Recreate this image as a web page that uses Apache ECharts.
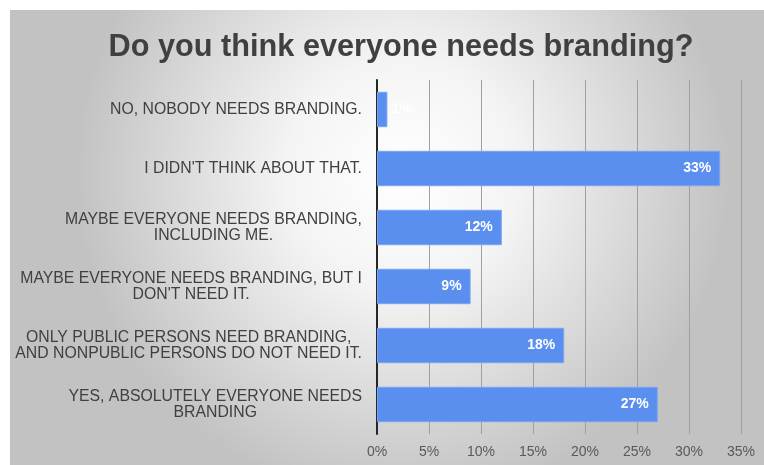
<!DOCTYPE html>
<html>
<head>
<meta charset="utf-8">
<script src="https://cdn.jsdelivr.net/npm/echarts@6/dist/echarts.min.js"></script>
<style>
  html, body { margin: 0; padding: 0; background: #ffffff; }
  #chart { position: absolute; left: 10px; top: 10px; width: 754px; height: 455px; }
</style>
</head>
<body>
<div id="chart"></div>
<script>
// Survey answers, listed top to bottom as shown on the chart
const categories = [
  'NO, NOBODY NEEDS BRANDING.',
  "I DIDN'T THINK ABOUT THAT.",
  'MAYBE EVERYONE NEEDS BRANDING,\nINCLUDING ME.',
  "MAYBE EVERYONE NEEDS BRANDING, BUT I\nDON'T NEED IT.",
  'ONLY PUBLIC PERSONS NEED BRANDING,\nAND NONPUBLIC PERSONS DO NOT NEED IT.',
  'YES, ABSOLUTELY EVERYONE NEEDS\nBRANDING'
];
// Share of respondents, percent
const shares = [1, 33, 12, 9, 18, 27];
const axisMax = 35;
const axisStep = 5;

const chart = echarts.init(document.getElementById('chart'));

chart.setOption({
  backgroundColor: new echarts.graphic.RadialGradient(0.52, 0.36, 0.72, [
    { offset: 0, color: '#ffffff' },
    { offset: 0.35, color: '#f4f4f4' },
    { offset: 1, color: '#c2c2c2' }
  ]),
  title: {
    text: 'Do you think everyone needs branding?',
    left: 386,
    textAlign: 'center',
    top: 17,
    textStyle: {
      fontFamily: 'Liberation Sans, Arial, sans-serif',
      fontSize: 30.7,
      fontWeight: 'bold',
      color: '#404040'
    }
  },
  grid: { left: 367, right: 23, top: 70, bottom: 31, containLabel: false },
  xAxis: {
    type: 'value',
    min: 0,
    max: axisMax,
    interval: axisStep,
    axisLine: { show: false },
    axisTick: { show: false },
    splitLine: { show: true, lineStyle: { color: '#a0a0a0', width: 1 } },
    axisLabel: {
      formatter: v => v + '%',
      color: '#595959',
      fontFamily: 'Liberation Sans, Arial, sans-serif',
      fontSize: 14,
      margin: 11
    }
  },
  yAxis: {
    type: 'category',
    inverse: true,
    data: categories,
    axisLine: { show: true, lineStyle: { color: '#262626', width: 2 } },
    axisTick: { show: false },
    axisLabel: {
      margin: 15,
      align: 'right',
      lineHeight: 16,
      formatter: v => v.split('\n').map(line => '{c|' + line + '}').join('\n'),
      rich: {
        c: {
          align: 'center',
          color: '#404040',
          fontFamily: 'Liberation Sans, Arial, sans-serif',
          fontSize: 15.8,
          lineHeight: 16
        }
      }
    }
  },
  series: [{
    type: 'bar',
    data: shares.map(v => ({
      value: v,
      label: v < 3 ? { position: 'right', distance: 4 } : {}
    })),
    barCategoryGap: '40%',
    itemStyle: { color: '#5a8eef', borderColor: '#7aa4f2', borderWidth: 1 },
    label: {
      show: true,
      position: 'insideRight',
      distance: 9,
      formatter: p => p.value + '%',
      color: '#ffffff',
      fontFamily: 'Liberation Sans, Arial, sans-serif',
      fontSize: 14,
      fontWeight: 'bold'
    }
  }]
});
</script>
</body>
</html>
